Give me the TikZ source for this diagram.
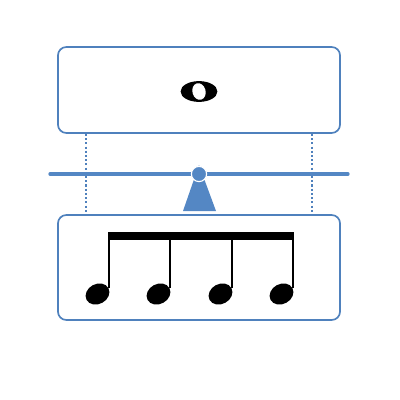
\documentclass[tikz,border=0pt]{standalone}
\usetikzlibrary{positioning,shapes.geometric}
\definecolor{boxblue}{RGB}{79,129,189}
\definecolor{beamblue}{RGB}{84,135,196}

\tikzstyle{panel} = [draw=boxblue, line width=1.2pt, rounded corners=6pt, minimum width=7.05cm, inner sep=0pt]
\tikzstyle{guide} = [draw=boxblue, line width=0.9pt, dash pattern=on 1.5pt off 1.5pt]
\tikzstyle{head} = [ellipse, fill, inner sep=0pt, minimum width=0.62cm, minimum height=0.5cm, rotate=28]
\tikzstyle{stem} = [line width=1.4pt]

\begin{document}
\begin{tikzpicture}[x=0.025cm,y=-0.025cm]
\useasboundingbox (0,0) rectangle (400,400);
% the two panels
\node [panel, minimum height=2.15cm] (top) at (199,90) {};
\node [panel, minimum height=2.625cm] (bottom) at (199,267.5) {};

% whole note
\node [ellipse, fill, inner sep=0pt, minimum width=0.92cm, minimum height=0.52cm] (whole) at (199,91.5) {};
\node [ellipse, fill=white, inner sep=0pt, minimum width=0.33cm, minimum height=0.42cm, rotate=15] (hole) at (whole) {};

% dotted guides
\coordinate (gl) at (86,0);
\coordinate (gr) at (312,0);
\draw [guide] (top.south -| gl) -- (bottom.north -| gl);
\draw [guide] (top.south -| gr) -- (bottom.north -| gr);

% seesaw
\coordinate (bl) at (50,174);
\coordinate (br) at (348,174);
\coordinate (piv) at (199,174);
\draw [beamblue, line width=2.3pt, line cap=round] (bl) -- (br);
\fill [beamblue] (199,165) -- (183,211) -- (216,211) -- cycle;
\node [circle, fill=beamblue, draw=white, line width=0.8pt, inner sep=0pt, minimum size=0.38cm] (pivot) at (piv) {};

% four beamed eighth notes
\coordinate (beamtop) at (0,232);
\coordinate (beambot) at (0,239.5);
\foreach \i/\x in {1/97.5,2/158.5,3/220.5,4/281.5} {
  \node [head] (h\i) at (\x,294) {};
  \draw [stem] (h\i.east) -- (h\i.east |- beamtop);
}
\fill ([xshift=-0.7pt]h1.east |- beamtop) rectangle ([xshift=0.7pt]h4.east |- beambot);
\end{tikzpicture}
\end{document}
